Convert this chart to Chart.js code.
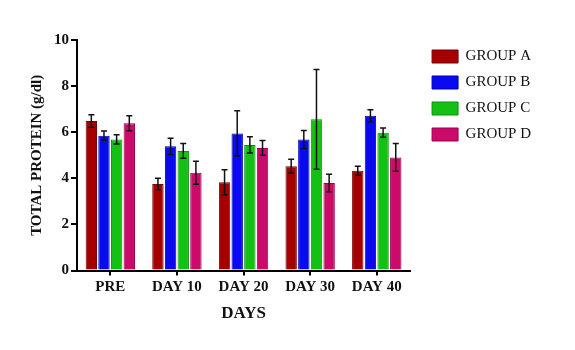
<!DOCTYPE html>
<html>
<head>
<meta charset="utf-8">
<script src="https://cdn.jsdelivr.net/npm/chart.js@4"></script>
<style>
html,body{margin:0;padding:0;background:#fff;}
#wrap{width:575px;height:350px;}
</style>
</head>
<body>
<div id="wrap"><canvas id="c" width="575" height="350"></canvas></div>
<script>
const categories = ['PRE', 'DAY 10', 'DAY 20', 'DAY 30', 'DAY 40'];
const groupNames = ['GROUP A', 'GROUP B', 'GROUP C', 'GROUP D'];
const groupA = [6.49, 3.76, 3.83, 4.53, 4.33];
const groupB = [5.85, 5.39, 5.95, 5.69, 6.72];
const groupC = [5.69, 5.19, 5.45, 6.56, 5.98];
const groupD = [6.39, 4.24, 5.32, 3.80, 4.91];
const errA = [0.27, 0.25, 0.54, 0.30, 0.20];
const errB = [0.20, 0.35, 0.98, 0.39, 0.26];
const errC = [0.20, 0.32, 0.35, 2.16, 0.20];
const errD = [0.32, 0.50, 0.32, 0.38, 0.60];
const yTicks = [0, 2, 4, 6, 8, 10];

const colors = ['#a40000', '#0a0af0', '#14c014', '#cc0a6a'];
const borders = ['#7a0000', '#0000b0', '#0e900e', '#990050'];
const values = [groupA, groupB, groupC, groupD];
const errors = [errA, errB, errC, errD];

const errorBars = {
  id: 'errorBars',
  afterLayout(chart) {
    const lg = chart.legend;
    if (lg) { lg.left += 11; lg.right += 11; lg.top -= 2; lg.bottom -= 2; }
  },
  afterDatasetsDraw(chart) {
    const ctx = chart.ctx;
    const y = chart.scales.y;
    ctx.save();
    ctx.strokeStyle = '#111';
    ctx.lineWidth = 1.5;
    chart.data.datasets.forEach((ds, i) => {
      const meta = chart.getDatasetMeta(i);
      meta.data.forEach((bar, j) => {
        const v = ds.data[j], e = ds.errors[j];
        const yt = y.getPixelForValue(v + e);
        const yb = y.getPixelForValue(v - e);
        const x = bar.x;
        ctx.beginPath();
        ctx.moveTo(x, yt); ctx.lineTo(x, yb);
        ctx.moveTo(x - 3, yt); ctx.lineTo(x + 3, yt);
        ctx.moveTo(x - 3, yb); ctx.lineTo(x + 3, yb);
        ctx.stroke();
      });
    });
    ctx.restore();
  }
};

const serif = "'Liberation Serif', 'Times New Roman', serif";

new Chart(document.getElementById('c'), {
  type: 'bar',
  data: {
    labels: categories,
    datasets: groupNames.map((n, i) => ({
      label: n,
      data: values[i],
      errors: errors[i],
      backgroundColor: colors[i],
      borderColor: borders[i],
      borderWidth: 1,
      categoryPercentage: 0.76,
      barPercentage: 0.9
    }))
  },
  options: {
    responsive: false,
    animation: false,
    layout: { padding: { left: 28, right: 45, top: 40, bottom: 26 } },
    plugins: {
      tooltip: { enabled: false },
      legend: {
        position: 'right',
        align: 'start',
        labels: {
          boxWidth: 26,
          boxHeight: 13,
          padding: 11,
          color: '#111',
          font: { family: serif, size: 15 }
        }
      }
    },
    scales: {
      x: {
        border: { display: true, color: '#000', width: 2 },
        grid: { display: true, drawOnChartArea: false, drawTicks: true, offset: false, tickLength: 5, color: '#000', lineWidth: 2 },
        ticks: { color: '#111', padding: 3, font: { family: serif, size: 15, weight: 'bold' } },
        title: { display: true, text: 'DAYS', color: '#111', padding: { top: 4, bottom: 0 }, font: { family: serif, size: 17, weight: 'bold' } }
      },
      y: {
        min: 0, max: 10,
        afterBuildTicks(axis) { axis.ticks = yTicks.map(v => ({ value: v })); },
        border: { display: true, color: '#000', width: 2 },
        grid: { display: true, drawOnChartArea: false, drawTicks: true, tickLength: 6, color: '#000', lineWidth: 2 },
        ticks: { color: '#111', padding: 2, font: { family: serif, size: 15, weight: 'bold' } },
        title: { display: true, text: 'TOTAL PROTEIN (g/dl)', color: '#111', padding: { top: 0, bottom: 6 }, font: { family: serif, size: 15, weight: 'bold' } }
      }
    }
  },
  plugins: [errorBars]
});
</script>
</body>
</html>
